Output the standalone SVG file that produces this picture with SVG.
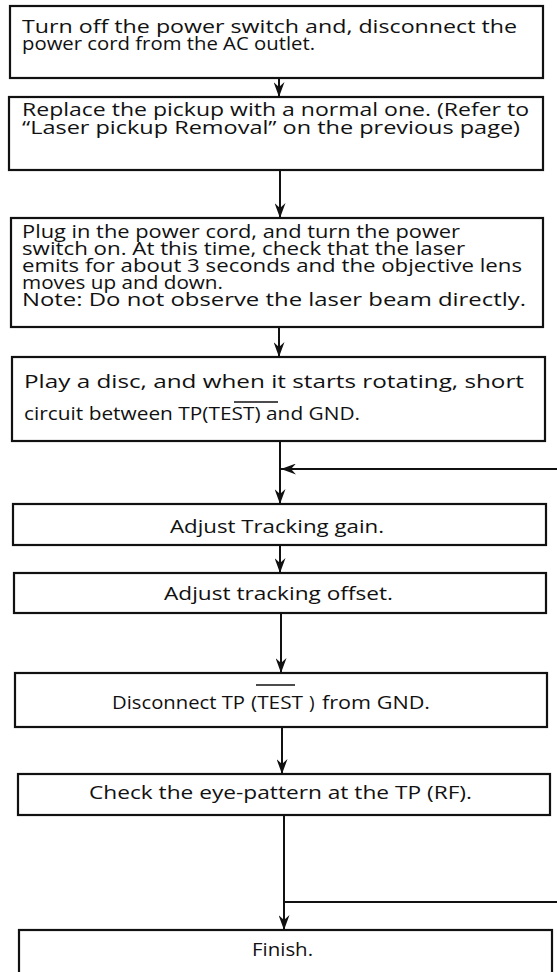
<svg xmlns="http://www.w3.org/2000/svg" width="557" height="972" viewBox="0 0 557 972">
<style>
.box{fill:#fff;stroke:#111;stroke-width:2.2}
.t{font-family:"Open Sans","Liberation Sans",sans-serif;font-size:18.5px;fill:#111}
.s{font-size:19px}
.c{text-anchor:middle}
.ln{stroke:#111;stroke-width:2;fill:none}
.ov{stroke:#111;stroke-width:1.6}
</style>
<defs>
<marker id="ah" markerWidth="15" markerHeight="11" viewBox="0 0 15 11" refX="15" refY="5.5" orient="auto" markerUnits="userSpaceOnUse">
<path d="M0,0 L15,5.5 L0,11 L5,5.5 Z" fill="#111"/>
</marker>
</defs>
<g id="connectors">
<path class="ln" d="M279,78 V97" marker-end="url(#ah)"/>
<path class="ln" d="M280,170 V218" marker-end="url(#ah)"/>
<path class="ln" d="M279,327 V357" marker-end="url(#ah)"/>
<path class="ln" d="M280,441 V504" marker-end="url(#ah)"/>
<path class="ln" d="M557,469 H281" marker-end="url(#ah)"/>
<path class="ln" d="M280,545 V573" marker-end="url(#ah)"/>
<path class="ln" d="M281,613 V673" marker-end="url(#ah)"/>
<path class="ln" d="M282,727 V774" marker-end="url(#ah)"/>
<path class="ln" d="M284,815 V930" marker-end="url(#ah)"/>
<path class="ln" d="M284,902 H557"/>
</g>
<g id="n1">
<rect class="box" x="10" y="6" width="533" height="72"/>
<text class="t" x="22" y="33" textLength="495" lengthAdjust="spacingAndGlyphs">Turn off the power switch and, disconnect the</text>
<text class="t" x="22" y="50" textLength="293" lengthAdjust="spacingAndGlyphs">power cord from the AC outlet.</text>
</g>
<g id="n2">
<rect class="box" x="9" y="97" width="534" height="73"/>
<text class="t" x="22" y="116" textLength="507" lengthAdjust="spacingAndGlyphs">Replace the pickup with a normal one. (Refer to</text>
<text class="t" x="22" y="134" textLength="498" lengthAdjust="spacingAndGlyphs">“Laser pickup Removal” on the previous page)</text>
</g>
<g id="n3">
<rect class="box" x="11" y="218" width="532" height="109"/>
<text class="t" x="22" y="238" textLength="438" lengthAdjust="spacingAndGlyphs">Plug in the power cord, and turn the power</text>
<text class="t" x="22" y="255" textLength="443" lengthAdjust="spacingAndGlyphs">switch on. At this time, check that the laser</text>
<text class="t" x="22" y="272" textLength="500" lengthAdjust="spacingAndGlyphs">emits for about 3 seconds and the objective lens</text>
<text class="t" x="22" y="289" textLength="201" lengthAdjust="spacingAndGlyphs">moves up and down.</text>
<text class="t" x="22" y="306" textLength="504" lengthAdjust="spacingAndGlyphs">Note: Do not observe the laser beam directly.</text>
</g>
<g id="n4">
<rect class="box" x="12" y="357" width="533" height="84"/>
<text class="t" x="24" y="388" textLength="500" lengthAdjust="spacingAndGlyphs">Play a disc, and when it starts rotating, short</text>
<text class="t" x="24" y="420" textLength="336" lengthAdjust="spacingAndGlyphs">circuit between TP(TEST) and GND.</text>
<line class="ov" x1="234" y1="402" x2="278" y2="402"/>
</g>
<g id="n5">
<rect class="box" x="13" y="504" width="533" height="41"/>
<text class="t s c" x="277" y="533" textLength="214" lengthAdjust="spacingAndGlyphs">Adjust Tracking gain.</text>
</g>
<g id="n6">
<rect class="box" x="14" y="573" width="532" height="40"/>
<text class="t s c" x="278.5" y="600" textLength="229" lengthAdjust="spacingAndGlyphs">Adjust tracking offset.</text>
</g>
<g id="n7">
<rect class="box" x="15" y="673" width="532" height="54"/>
<text class="t s" y="709"><tspan x="112" textLength="133" lengthAdjust="spacingAndGlyphs">Disconnect TP</tspan><tspan x="251" textLength="52" lengthAdjust="spacingAndGlyphs">(TEST</tspan><tspan x="309">)</tspan><tspan x="322" textLength="108" lengthAdjust="spacingAndGlyphs">from GND.</tspan></text>
<line class="ov" x1="256" y1="685" x2="295" y2="685"/>
</g>
<g id="n8">
<rect class="box" x="18" y="774" width="532" height="41"/>
<text class="t s c" x="280.5" y="799" textLength="383" lengthAdjust="spacingAndGlyphs">Check the eye-pattern at the TP (RF).</text>
</g>
<g id="n9">
<rect class="box" x="19" y="930" width="533" height="45"/>
<text class="t s c" x="282.5" y="956" textLength="61" lengthAdjust="spacingAndGlyphs">Finish.</text>
</g>
</svg>
